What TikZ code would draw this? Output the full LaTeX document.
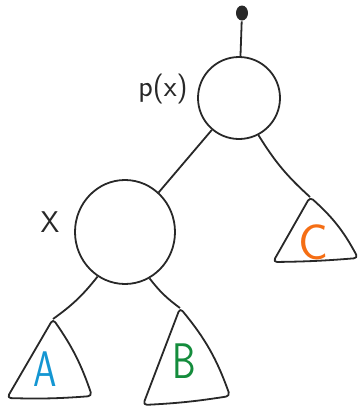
\documentclass[tikz,border=0pt]{standalone}
\definecolor{treeBlue}{RGB}{20,150,210}
\definecolor{treeGreen}{RGB}{20,140,60}
\definecolor{treeOrange}{RGB}{245,110,20}
\definecolor{treeInk}{RGB}{40,40,40}
\usepackage{tikz}
\usetikzlibrary{arrows.meta,positioning,calc,shapes.geometric}

\begin{document}
\begin{tikzpicture}[x=1pt, y=-1pt, line width=1.8pt, draw=treeInk,
    nd/.style={circle, draw=treeInk, line width=1.8pt, inner sep=0pt},
    tri/.style={draw=treeInk, line width=1.8pt, rounded corners=4pt, line join=round},
    lbl/.style={font=\fontsize{30}{30}\selectfont\sffamily, inner sep=0pt, text=treeInk},
    sub/.style={font=\fontsize{50}{50}\selectfont\sffamily, inner sep=0pt, xscale=0.75}
  ]
  \useasboundingbox (0,0) rectangle (361,408);

  % nodes of the tree
  \node[ellipse, fill=treeInk, inner sep=0pt, minimum width=12pt, minimum height=15pt] (root) at (242,13) {};
  \node[nd, minimum size=82pt]  (px) at (239,98)  {};
  \node[nd, minimum width=100pt, minimum height=104pt, ellipse] (xn) at (125,232) {};

  % subtree tips
  \coordinate (ta) at (53,319);
  \coordinate (tb) at (180,308);
  \coordinate (tc) at (310,197);

  % labels
  \node[lbl] (lpx) at (163,89) {p(x)};
  \node[lbl] (lx)  at (50,222) {X};

  % subtrees
  \draw[tri] (ta) to[bend left=8] (92,396) to[bend left=3] (7,398) -- cycle;
  \draw[tri] (tb) to[bend left=10] (230,396) to[bend left=3] (143,405) -- cycle;
  \draw[tri] (tc) to[bend left=10] (358,258) to[bend left=2] (273,262) -- cycle;
  \node[sub, text=treeBlue]   (la) at (45,369)  {A};
  \node[sub, text=treeGreen]  (lb) at (184,361) {B};
  \node[sub, text=treeOrange, xscale=1.33] (lc) at (313,242) {C};

  % edges
  \draw (root) -- (px);
  \draw (px) -- (xn);
  \draw (px) to[bend right=8] (tc);
  \draw (xn) to[bend left=8] (ta);
  \draw (xn) to[bend right=8] (tb);
\end{tikzpicture}
\end{document}
